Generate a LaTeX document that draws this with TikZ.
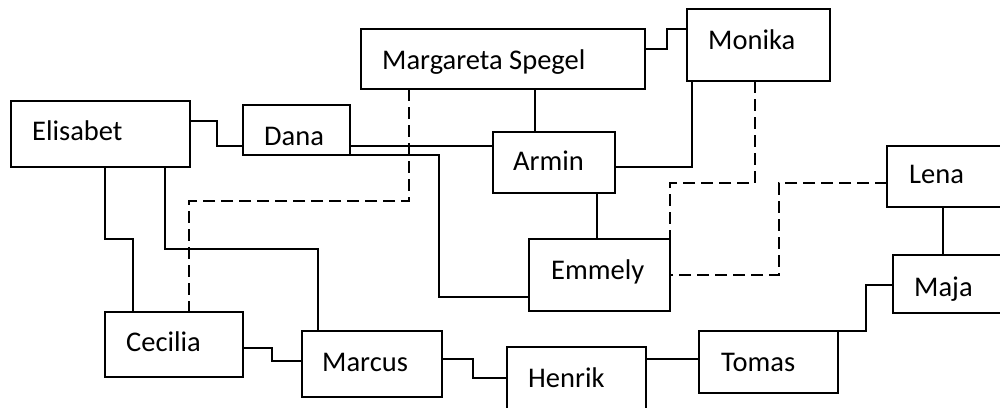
\documentclass[tikz,border=0pt]{standalone}
\usepackage{fontspec}
\setmainfont{Carlito}
\begin{document}
\begin{tikzpicture}[x=1pt,y=-1pt,
  box/.style={draw, line width=1.4pt, inner sep=0pt, outer sep=0pt, anchor=north west},
  txt/.style={anchor=base west, inner sep=0pt, font=\fontsize{28.5}{34}\selectfont},
  link/.style={line width=1.4pt},
  dashline/.style={line width=1.4pt, dash pattern=on 12pt off 6pt}]
\useasboundingbox (0,0) rectangle (1000,407);
\clip (0,0) rectangle (1000,407);
% boxes
\node[box, minimum width=179pt, minimum height=66pt] (elisabet) at (11,101) {};
\node[box, minimum width=107pt, minimum height=50pt] (dana) at (243,105) {};
\node[box, minimum width=284pt, minimum height=60pt] (marg) at (361,29) {};
\node[box, minimum width=143pt, minimum height=72pt] (monika) at (687,9) {};
\node[box, minimum width=122pt, minimum height=61pt] (armin) at (493,132) {};
\node[box, minimum width=123pt, minimum height=61pt] (lena) at (887,146) {};
\node[box, minimum width=117pt, minimum height=58pt] (maja) at (893,255) {};
\node[box, minimum width=141pt, minimum height=72pt] (emmely) at (529,239) {};
\node[box, minimum width=139pt, minimum height=62pt] (tomas) at (699,331) {};
\node[box, minimum width=139pt, minimum height=73pt] (henrik) at (507,347) {};
\node[box, minimum width=138pt, minimum height=65pt] (cecilia) at (105,312) {};
\node[box, minimum width=140pt, minimum height=66pt] (marcus) at (302,331) {};
% labels
\node[txt] (elisabet-t) at (32,140) {Elisabet};
\node[txt] (dana-t) at (264,145) {Dana};
\node[txt] (marg-t) at (382,69) {Margareta Spegel};
\node[txt] (monika-t) at (708,49) {Monika};
\node[txt] (armin-t) at (513,170) {Armin};
\node[txt] (lena-t) at (909,183) {Lena};
\node[txt] (emmely-t) at (551,279) {Emmely};
\node[txt] (maja-t) at (914,296) {Maja};
\node[txt] (tomas-t) at (721,371) {Tomas};
\node[txt] (henrik-t) at (528,387) {Henrik};
\node[txt] (cecilia-t) at (126,351) {Cecilia};
\node[txt] (marcus-t) at (322,371) {Marcus};
% connectors
\draw[link] (elisabet.east |- 0,121) -| (217,146) -- (dana.west |- 0,146);
\draw[link] (dana.east |- 0,146) -- (armin.west |- 0,146);
\draw[link] (dana.south east) -| (439,297) -- (emmely.west |- 0,297);
\draw[link] (marg.east |- 0,49) -| (667,29) -- (monika.west |- 0,29);
\draw[link] (marg.south -| 535,0) -- (armin.north -| 535,0);
\draw[link] (armin.east |- 0,167) -| (monika.south -| 692,0);
\draw[link] (armin.south -| 597,0) -- (emmely.north -| 597,0);
\draw[dashline] (monika.south -| 755,0) |- (670,183) -- (emmely.north east);
\draw[dashline] (lena.west |- 0,183) -| (779,275) -- (emmely.east |- 0,275);
\draw[link] (lena.south -| 943,0) -- (maja.north -| 943,0);
\draw[link] (maja.west |- 0,285) -| (866,331) -- (tomas.north east);
\draw[link] (henrik.east |- 0,359) -- (tomas.west |- 0,359);
\draw[link] (marcus.east |- 0,359) -| (473,378) -- (henrik.west |- 0,378);
\draw[link] (cecilia.east |- 0,348) -| (272,361) -- (marcus.west |- 0,361);
\draw[link] (elisabet.south -| 105,0) |- (133,239) -- (cecilia.north -| 133,0);
\draw[link] (elisabet.south -| 165,0) |- (318,249) -- (marcus.north -| 318,0);
\draw[dashline] (marg.south -| 409,0) |- (189,201) -- (cecilia.north -| 189,0);
\end{tikzpicture}
\end{document}
